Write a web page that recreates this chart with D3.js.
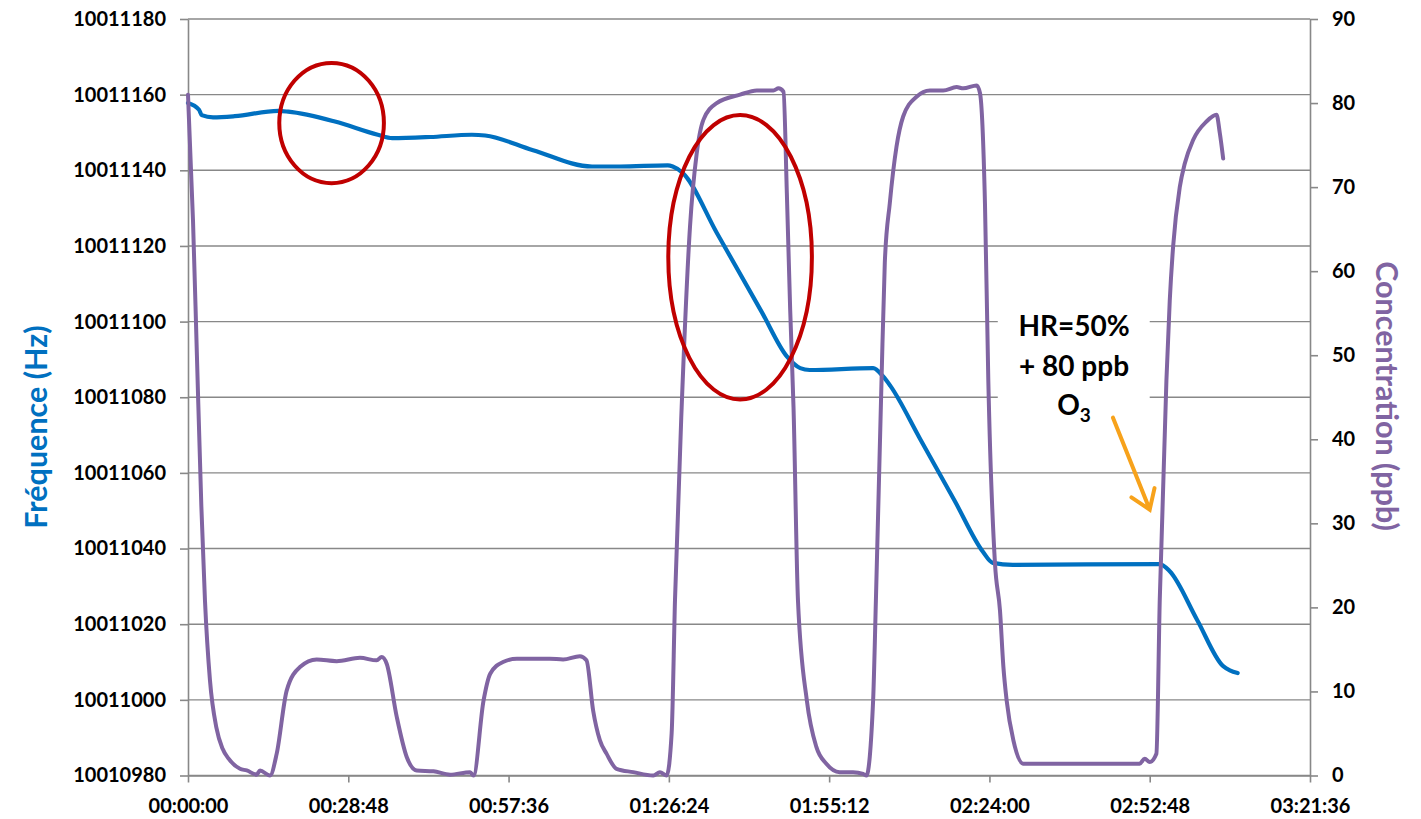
<!DOCTYPE html>
<html><head><meta charset="utf-8">
<script src="https://cdn.jsdelivr.net/npm/d3@7"></script>
<style>
html,body{margin:0;padding:0;background:#fff;}
text{font-family:Lato,"Open Sans",sans-serif;font-weight:700;}
</style></head>
<body>
<svg id="chart" width="1421" height="819"></svg>
<script>
// ---- Data (time in minutes) ----
const freqTime = [0, 1.98, 2.46, 4.5, 8.4, 16.2, 18.0, 26.4, 34.1, 36.7, 43.5, 51.0, 53.4, 62.0, 72.6, 77.6, 86.2, 87.1, 88.9, 95.0, 103.1, 107.6, 110.0, 111.7, 123.1, 124.9, 126.2, 131.5, 137.8, 142.8, 144.6, 148.2, 174.6, 176.4, 181.3, 186.0, 187.2, 188.6];
const freqValue = [10011157.8, 10011156, 10011154.6, 10011154.0, 10011154.3, 10011155.7, 10011155.5, 10011152.9, 10011149.4, 10011148.5, 10011148.8, 10011149.4, 10011149.2, 10011145.3, 10011141, 10011141, 10011141.3, 10011141.0, 10011139.3, 10011123.5, 10011102.5, 10011090.8, 10011087.7, 10011087.2, 10011087.7, 10011085.5, 10011083.0, 10011069.1, 10011052.5, 10011039.2, 10011036.2, 10011035.7, 10011035.9, 10011034, 10011021.2, 10011008.9, 10011007.8, 10011007.1];

const concTime = [0, 0.9, 1.6, 2.4, 3.05, 3.95, 5.1, 6.2, 7.3, 9.34, 10.55, 12.34, 12.94, 14.73, 15.94, 17.73, 20.12, 23.12, 26.72, 30.9, 33.9, 34.8, 35.7, 37.5, 39.3, 41.1, 44.1, 47.1, 50.7, 51.3, 53.1, 54.3, 56.6, 59.1, 65.0, 67.4, 70.4, 71.6, 72.8, 74.0, 75.2, 77.0, 80.0, 83.6, 84.8, 86.0, 86.9, 87.5, 88.7, 90.2, 91.4, 92.6, 95.0, 99.2, 102.2, 105.2, 106.1, 107.0, 107.6, 108.2, 108.8, 109.6, 111.2, 112.9, 114.7, 117.1, 119.5, 121.3, 121.9, 123.1, 123.6, 124.6, 125.2, 126.1, 127.3, 128.5, 130.9, 133.3, 135.7, 138.1, 139.3, 141.7, 142.3, 143.2, 143.8, 145.0, 145.9, 146.5, 147.1, 148.3, 150.1, 171.0, 171.9, 172.8, 174.0, 174.6, 175.8, 176.4, 177.0, 178.2, 179.1, 180.6, 183.0, 184.8, 185.4, 186.0];
const concValue = [81, 66, 50, 32, 20.8, 11.3, 5.7, 3.2, 2.0, 0.8, 0.6, 0.1, 0.6, 0, 2.6, 10.1, 12.9, 13.8, 13.6, 14.0, 13.7, 14.1, 13.3, 7, 2.2, 0.6, 0.5, 0.1, 0.4, 0, 8.9, 12.1, 13.5, 13.9, 13.9, 13.8, 14.2, 13.7, 7.7, 4.2, 2.6, 0.8, 0.4, 0, 0.4, 0, 5, 20.8, 43.8, 65.3, 74, 78, 80, 81, 81.5, 81.5, 81.75, 81.35, 69.3, 55.4, 43.8, 20.8, 8.9, 3.4, 1.4, 0.4, 0.4, 0.2, 0, 8.9, 20.8, 46.7, 61, 68.1, 74.8, 78.4, 80.75, 81.5, 81.5, 81.9, 81.75, 82.1, 81.2, 68, 47, 25.2, 19.6, 13, 8.9, 4.2, 1.4, 1.4, 2.0, 1.6, 2.6, 20.8, 47, 56.5, 62.9, 70, 72.8, 75.6, 77.8, 78.6, 76.4, 73.4];

const xTickValues = [0, 28.8, 57.6, 86.4, 115.2, 144.0, 172.8, 201.6];
const xTickLabels = ["00:00:00", "00:28:48", "00:57:36", "01:26:24", "01:55:12", "02:24:00", "02:52:48", "03:21:36"];
const leftTicks = [10010980, 10011000, 10011020, 10011040, 10011060, 10011080, 10011100, 10011120, 10011140, 10011160, 10011180];
const rightTicks = [0, 10, 20, 30, 40, 50, 60, 70, 80, 90];

const leftTitle = "Fréquence (Hz)";
const rightTitle = "Concentration (ppb)";

// annotations (data coordinates)
const ellipseCenterT = [25.8, 99.2];
const ellipseCenterF = [10011152.5, 10011117.0];
const ellipseRadT = [9.4, 12.9];
const ellipseRadF = [15.9, 37.6];
const noteLines = ["HR=50%", "+ 80 ppb", "O"];
const noteT = 159.2;
const noteF = [10011096.1, 10011085.5, 10011075.4];
const noteBoxT = [145.5, 172.8];
const noteBoxF = [10011105.8, 10011070.1];
const arrowFrom = {t: 166.2, f: 10011074.6};
const arrowTo = {t: 172.8, f: 10011050.3};

// ---- Layout ----
const L = 188, R = 1310, T = 19, B = 775.5;
const svg = d3.select("#chart");

const x = d3.scaleLinear().domain([0, 201.6]).range([L, R]);
const yL = d3.scaleLinear().domain([10010980, 10011180]).range([B, T]);
const yR = d3.scaleLinear().domain([0, 90]).range([B, T]);

const gridColor = "#888888";

// gridlines
svg.append("g").selectAll("line").data(leftTicks).join("line")
  .attr("x1", L).attr("x2", R)
  .attr("y1", d => yL(d)).attr("y2", d => yL(d))
  .attr("stroke", gridColor).attr("stroke-width", 1.4);

// axes
const fmtX = d => xTickLabels[xTickValues.indexOf(d)];
const gx = svg.append("g").attr("transform", `translate(0,${B})`)
  .call(d3.axisBottom(x).tickValues(xTickValues).tickFormat(fmtX).tickSize(7).tickSizeOuter(0));
gx.selectAll("text").attr("y", 37.5).attr("dy", "0");

const gl = svg.append("g").attr("transform", `translate(${L},0)`)
  .call(d3.axisLeft(yL).tickValues(leftTicks).tickFormat(d3.format("d")).tickSize(8).tickPadding(14).tickSizeOuter(0));
const gr = svg.append("g").attr("transform", `translate(${R},0)`)
  .call(d3.axisRight(yR).tickValues(rightTicks).tickFormat(d3.format("d")).tickSize(8).tickPadding(14).tickSizeOuter(0));

[gx, gl, gr].forEach(g => {
  g.selectAll("path.domain").attr("stroke", gridColor).attr("stroke-width", 1.6);
  g.selectAll(".tick line").attr("stroke", gridColor).attr("stroke-width", 1.6);
  g.selectAll("text").attr("fill", "#000").style("font-size", "20px")
    .style("font-family", "Lato, 'Open Sans', sans-serif").style("font-weight", 700);
});

// annotation white box
svg.append("rect")
  .attr("x", x(noteBoxT[0])).attr("width", x(noteBoxT[1]) - x(noteBoxT[0]))
  .attr("y", yL(noteBoxF[0])).attr("height", yL(noteBoxF[1]) - yL(noteBoxF[0]))
  .attr("fill", "#fff");

// lines
const freqData = freqTime.map((t, i) => ({t, v: freqValue[i]}));
const concData = concTime.map((t, i) => ({t, v: concValue[i]}));

svg.append("path").datum(freqData)
  .attr("fill", "none").attr("stroke", "#0070C0").attr("stroke-width", 4.2)
  .attr("stroke-linejoin", "round").attr("stroke-linecap", "round")
  .attr("d", d3.line().x(d => x(d.t)).y(d => yL(d.v)).curve(d3.curveMonotoneX));

svg.append("path").datum(concData)
  .attr("fill", "none").attr("stroke", "#8064A2").attr("stroke-width", 4)
  .attr("stroke-linejoin", "round").attr("stroke-linecap", "round")
  .attr("d", d3.line().x(d => x(d.t)).y(d => yR(d.v)).curve(d3.curveMonotoneX));

// red ellipses
svg.append("g").selectAll("ellipse").data(ellipseCenterT).join("ellipse")
  .attr("cx", (d, i) => x(d))
  .attr("cy", (d, i) => yL(ellipseCenterF[i]))
  .attr("rx", (d, i) => x(ellipseRadT[i]) - x(0))
  .attr("ry", (d, i) => yL(yL.domain()[0]) - yL(yL.domain()[0] + ellipseRadF[i]))
  .attr("fill", "none").attr("stroke", "#C00000").attr("stroke-width", 4);

// note text
const note = svg.append("g");
noteLines.forEach((s, i) => {
  const tx = note.append("text")
    .attr("x", x(noteT)).attr("y", yL(noteF[i]))
    .attr("text-anchor", "middle").attr("fill", "#000")
    .style("font-size", "28px");
  if (i === 2) {
    tx.append("tspan").text("O");
    tx.append("tspan").text("3").attr("dy", 7).style("font-size", "19px");
  } else tx.text(s);
});

// orange arrow
const ax1 = x(arrowFrom.t), ay1 = yL(arrowFrom.f), ax2 = x(arrowTo.t), ay2 = yL(arrowTo.f);
const ang = Math.atan2(ay2 - ay1, ax2 - ax1);
const hl = 22, ha = 0.6;
svg.append("path")
  .attr("d", `M${ax1},${ay1}L${ax2},${ay2}M${ax2 - hl*Math.cos(ang - ha)},${ay2 - hl*Math.sin(ang - ha)}L${ax2},${ay2}L${ax2 - hl*Math.cos(ang + ha)},${ay2 - hl*Math.sin(ang + ha)}`)
  .attr("fill", "none").attr("stroke", "#F7A21B").attr("stroke-width", 4)
  .attr("stroke-linecap", "round").attr("stroke-linejoin", "miter");

// axis titles
svg.append("text")
  .attr("transform", `translate(35,427) rotate(-90)`)
  .attr("text-anchor", "middle").attr("dominant-baseline", "central")
  .attr("fill", "#0070C0").style("font-size", "30.5px").text(leftTitle);
svg.append("text")
  .attr("transform", `translate(1388,396) rotate(90)`)
  .attr("text-anchor", "middle").attr("dominant-baseline", "central")
  .attr("fill", "#8064A2").style("font-size", "30.5px").text(rightTitle);
</script>
</body></html>
